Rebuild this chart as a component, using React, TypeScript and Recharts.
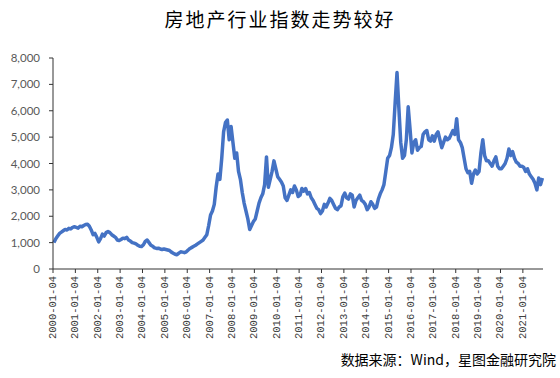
import { LineChart, Line, XAxis, YAxis } from 'recharts'

// 房地产行业指数, monthly readings (Jan..Dec), 2000-01 to 2021-11
const startYear = 2000
const monthlyIndex: number[] = [
  1000, 1150, 1250, 1350, 1400, 1450, 1500, 1480, 1540, 1520, 1580, 1600, // 2000
  1580, 1550, 1620, 1600, 1650, 1690, 1700, 1620, 1480, 1300, 1350, 1200, // 2001
  1030, 1150, 1320, 1250, 1380, 1420, 1380, 1300, 1250, 1200, 1100, 1080, // 2002
  1120, 1170, 1150, 1200, 1100, 1060, 1000, 980, 950, 900, 860, 850, // 2003
  920, 1050, 1100, 1000, 900, 860, 800, 780, 790, 760, 740, 760, // 2004
  740, 720, 700, 640, 600, 560, 540, 600, 650, 640, 620, 650, // 2005
  720, 780, 820, 860, 900, 950, 1000, 1050, 1100, 1200, 1300, 1650, // 2006
  2050, 2200, 2450, 3100, 3600, 3400, 4200, 5200, 5550, 5650, 4900, 5400, // 2007
  4800, 4200, 4400, 3700, 3400, 2900, 2500, 2200, 1900, 1500, 1650, 1800, // 2008
  1900, 2200, 2500, 2700, 2850, 3200, 4250, 3100, 3400, 3700, 4100, 3800, // 2009
  3500, 3400, 3300, 3150, 2700, 2600, 2800, 3000, 2900, 3150, 3000, 2750, // 2010
  2800, 3050, 2950, 3050, 2850, 2900, 2700, 2600, 2450, 2300, 2250, 2100, // 2011
  2200, 2450, 2350, 2500, 2680, 2600, 2450, 2300, 2250, 2350, 2400, 2750, // 2012
  2880, 2700, 2650, 2850, 2800, 2350, 2600, 2700, 2800, 2600, 2550, 2450, // 2013
  2250, 2350, 2550, 2450, 2300, 2350, 2650, 2850, 3000, 3200, 3700, 4200, // 2014
  4300, 4600, 5100, 6300, 7450, 6100, 4800, 4200, 4300, 4900, 6150, 5300, // 2015
  4400, 4800, 4900, 4500, 4600, 4650, 5100, 5200, 5250, 4900, 4850, 5050, // 2016
  4850, 5100, 5200, 4900, 4600, 4800, 5000, 4900, 4950, 5100, 5250, 5100, // 2017
  5700, 4900, 4800, 4600, 4200, 3800, 3650, 3700, 3250, 3600, 3750, 3600, // 2018
  3700, 4400, 4900, 4300, 4100, 4100, 4000, 3900, 4100, 4250, 3900, 3800, // 2019
  3800, 3900, 4000, 4200, 4550, 4300, 4450, 4200, 4050, 4000, 3900, 3900, // 2020
  3850, 3700, 3800, 3600, 3500, 3400, 3250, 3000, 3450, 3200, 3450, // 2021
]

const yearTicks = [
  2000, 2001, 2002, 2003, 2004, 2005, 2006, 2007, 2008, 2009, 2010,
  2011, 2012, 2013, 2014, 2015, 2016, 2017, 2018, 2019, 2020, 2021,
]
const xTickLabels = [
  '2000-01-04', '2001-01-04', '2002-01-04', '2003-01-04', '2004-01-04', '2005-01-04',
  '2006-01-04', '2007-01-04', '2008-01-04', '2009-01-04', '2010-01-04', '2011-01-04',
  '2012-01-04', '2013-01-04', '2014-01-04', '2015-01-04', '2016-01-04', '2017-01-04',
  '2018-01-04', '2019-01-04', '2020-01-04', '2021-01-04',
]
const yTicks = [0, 1000, 2000, 3000, 4000, 5000, 6000, 7000, 8000]

const data = monthlyIndex.map((v, i) => ({ t: startYear + (i + 0.5) / 12, v }))

const XTick = (props: any) => {
  const { x, y, payload } = props
  const label = xTickLabels[yearTicks.indexOf(payload.value)]
  return (
    <text
      x={x}
      y={y}
      transform={`rotate(-90 ${x} ${y})`}
      textAnchor="end"
      dominantBaseline="central"
      fill="#404040"
      fontSize={10.5}
      fontFamily="Liberation Mono"
    >
      {label}
    </text>
  )
}

export default function App() {
  return (
    <div style={{ position: 'absolute', left: 0, top: 0, width: 560, height: 378, background: '#fff' }}>
      <div
        style={{
          position: 'absolute',
          top: 5,
          left: 0,
          width: 560,
          textAlign: 'center',
          fontFamily: '"Noto Sans CJK SC"',
          fontSize: 19,
          letterSpacing: 2,
          color: '#000',
        }}
      >
        房地产行业指数走势较好
      </div>
      <LineChart width={560} height={339} data={data} margin={{ top: 58, right: 17, bottom: 0, left: 0 }}>
        <XAxis
          dataKey="t"
          type="number"
          domain={[2000, 2021.9]}
          ticks={yearTicks}
          interval={0}
          height={70}
          stroke="#333"
          tickSize={4}
          tickMargin={3}
          tick={<XTick />}
        />
        <YAxis
          domain={[0, 8000]}
          ticks={yTicks}
          width={53}
          stroke="#333"
          tickSize={4}
          tickMargin={9}
          tick={{ fill: '#595959', fontSize: 11.5, fontFamily: 'Lato' }}
          tickFormatter={(v: number) => v.toLocaleString('en-US')}
        />
        <Line
          type="linear"
          dataKey="v"
          stroke="#4472C4"
          strokeWidth={3.5}
          strokeLinejoin="round"
          dot={false}
          isAnimationActive={false}
        />
      </LineChart>
      <div
        style={{
          position: 'absolute',
          top: 349,
          right: 4,
          fontFamily: '"Noto Sans CJK SC"',
          fontSize: 14,
          color: '#000',
        }}
      >
        数据来源：Wind，星图金融研究院
      </div>
    </div>
  )
}
